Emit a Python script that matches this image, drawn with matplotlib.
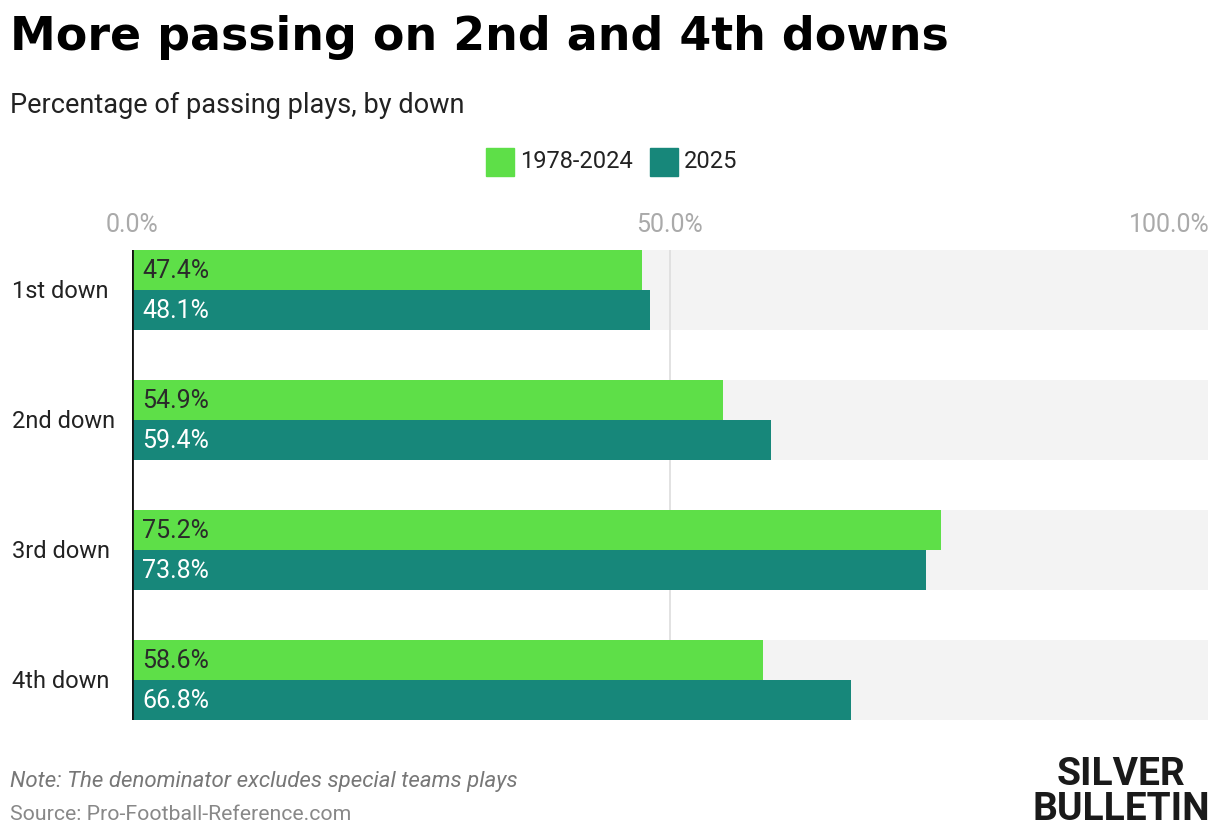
import numpy as np
import matplotlib.pyplot as plt
from matplotlib.patches import Rectangle

# data
downs = ["1st down", "2nd down", "3rd down", "4th down"]
hist = [47.4, 54.9, 75.2, 58.6]   # 1978-2024
cur = [48.1, 59.4, 73.8, 66.8]    # 2025
series_names = ["1978-2024", "2025"]
ticks = [0, 50, 100]

GREEN = "#5EDF48"
TEAL = "#17877A"
NARROW = ["Roboto", "DejaVu Sans"]

W, H = 1220, 836
fig = plt.figure(figsize=(W / 100, H / 100), dpi=100)

pitch = 130.0
bh = 40 / pitch
top_px, bot_px = 250, 720
ax = fig.add_axes([132 / W, 1 - bot_px / H, (1208 - 132) / W, (bot_px - top_px) / H])
ax.set_xlim(0, 100)
ax.set_ylim(3 + 40 / pitch, -40 / pitch)

y = np.arange(len(downs))
# grey bands
ax.barh(y, 100, height=2 * bh, color="#F3F3F3", zorder=0)
ax.axvline(50, color="#DDDDDD", lw=1.2, zorder=1)
ax.barh(y - bh / 2, hist, height=bh, color=GREEN, zorder=2)
ax.barh(y + bh / 2, cur, height=bh, color=TEAL, zorder=2)

off = 10 / (1208 - 132) * 100
for i in range(len(downs)):
    ax.text(off, i - bh / 2 + 0.01, f"{hist[i]:.1f}%", va="center", ha="left",
            fontsize=18, color="#2a2a2a", family=NARROW, zorder=3)
    ax.text(off, i + bh / 2 + 0.01, f"{cur[i]:.1f}%", va="center", ha="left",
            fontsize=18, color="white", family=NARROW, zorder=3)

for sp in ax.spines.values():
    sp.set_visible(False)
ax.axvline(0, color="#111111", lw=2, zorder=4)
ax.set_xticks([])
ax.set_yticks([])

# category labels
for i, d in enumerate(downs):
    fig.text(12 / W, 1 - (292 + i * pitch) / H, d, ha="left", va="center",
             fontsize=17, color="#222222", family=NARROW)

# x tick labels on top
for t in ticks:
    ha = "center" if t < 100 else "right"
    xpx = 132 + t / 100 * (1208 - 132)
    if t == 100:
        xpx = 1210
    fig.text(xpx / W, 1 - 225 / H, f"{t:.1f}%", ha=ha, va="center",
             fontsize=18, color="#AAAAAA", family=NARROW)

# legend
for (x0, name, col) in [(486, series_names[0], GREEN), (650, series_names[1], TEAL)]:
    fig.patches.append(Rectangle((x0 / W, 1 - 176 / H), 28 / W, 28 / H,
                                 transform=fig.transFigure, color=col))
    fig.text((x0 + 34) / W, 1 - 162 / H, name, ha="left", va="center",
             fontsize=17, color="#222222", family=NARROW)

# titles
fig.text(10 / W, 1 - 38 / H, "More passing on 2nd and 4th downs", ha="left", va="center",
         fontsize=33, fontweight="heavy", color="black", family=["DejaVu Sans"])
fig.text(10 / W, 1 - 105 / H, "Percentage of passing plays, by down", ha="left", va="center",
         fontsize=19.5, color="#222222", family=["Roboto", "DejaVu Sans"])

# footer
fig.text(10 / W, 1 - 782 / H, "Note: The denominator excludes special teams plays", ha="left",
         va="center", fontsize=16, style="italic", color="#777777", family=["Roboto", "DejaVu Sans"])
fig.text(10 / W, 1 - 814 / H, "Source: Pro-Football-Reference.com", ha="left",
         va="center", fontsize=15.3, color="#888888", family=["Roboto", "DejaVu Sans"])
fig.text(1210 / W, 1 - 792 / H, "SILVER\nBULLETIN", ha="right", va="center", fontsize=28,
         fontweight="bold", color="#1a1a1a", family=NARROW, multialignment="center",
         linespacing=0.95)

fig.savefig("out.png", dpi=100, facecolor="white")
